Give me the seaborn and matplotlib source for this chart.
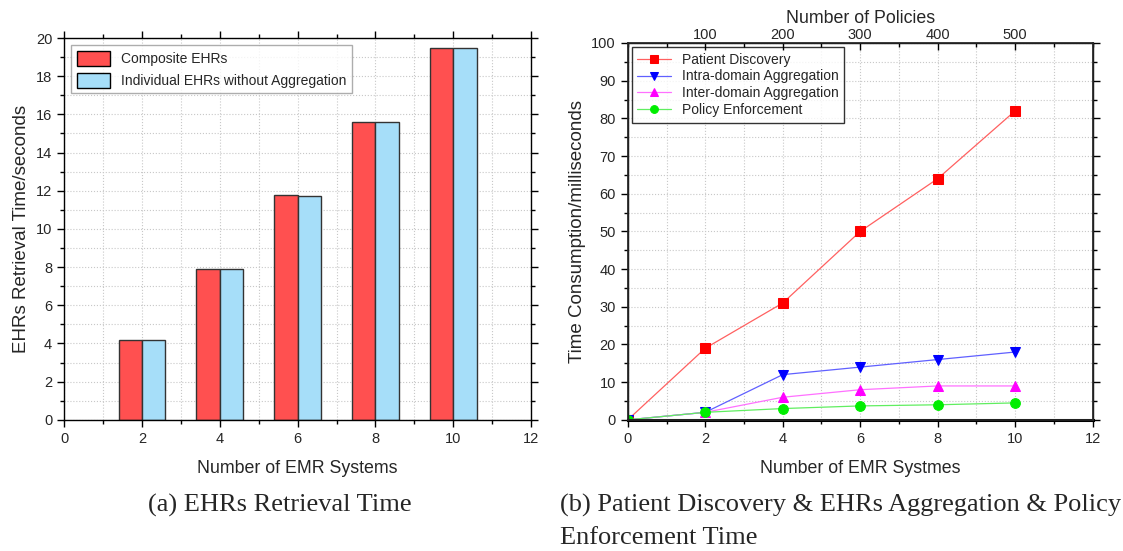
import numpy as np
import pandas as pd
import seaborn as sns
import matplotlib
matplotlib.use('Agg')
import matplotlib.pyplot as plt
from matplotlib.ticker import MultipleLocator

# data
emr_systems = [2, 4, 6, 8, 10]
composite = [4.2, 7.9, 11.8, 15.6, 19.5]
individual = [4.2, 7.88, 11.75, 15.6, 19.5]

line_x = [0, 2, 4, 6, 8, 10]
patient_discovery = [0, 19, 31, 50, 64, 82]
intra_domain = [0, 2, 12, 14, 16, 18]
inter_domain = [0, 2, 6, 8, 9, 9]
policy_enforcement = [0, 2, 3, 3.7, 4, 4.5]

policy_ticks = [100, 200, 300, 400, 500]

sns.set_theme(style="white")
plt.rcParams['font.family'] = ['Liberation Sans', 'DejaVu Sans']

fig = plt.figure(figsize=(11.23, 5.51), dpi=100)
ax1 = fig.add_axes([0.057, 0.238, 0.416, 0.693])
ax2 = fig.add_axes([0.559, 0.238, 0.414, 0.684])

grid_kw = dict(color='#c8c8c8', linestyle=':', linewidth=0.8)
serif = ['Liberation Serif', 'DejaVu Serif']

def style_axis(ax, xmax, ymax, ymaj, ymin):
    ax.set_xlim(0, xmax)
    ax.set_ylim(0, ymax)
    ax.xaxis.set_major_locator(MultipleLocator(2))
    ax.xaxis.set_minor_locator(MultipleLocator(1))
    ax.yaxis.set_major_locator(MultipleLocator(ymaj))
    ax.yaxis.set_minor_locator(MultipleLocator(ymin))
    ax.grid(True, which='both', **grid_kw)
    ax.set_axisbelow(True)
    for s in ax.spines.values():
        s.set_color('black')
        s.set_linewidth(1.0)
    ax.tick_params(which='both', direction='out', color='black', labelsize=10.5,
                   top=True, right=True, bottom=True, left=True)
    ax.tick_params(which='major', length=5, width=1)
    ax.tick_params(which='minor', length=3, width=1)

# (a) bars
bars = pd.DataFrame({
    'x': emr_systems * 2,
    'val': composite + individual,
    'series': ['Composite EHRs'] * 5 + ['Individual EHRs without Aggregation'] * 5,
})
sns.barplot(data=bars, x='x', y='val', hue='series', native_scale=True,
            width=0.6, gap=0, palette=['#ff5050', '#a6def9'], saturation=1,
            edgecolor='#333333', linewidth=1.0, ax=ax1)
style_axis(ax1, 12, 20, 2, 1)
ax1.set_xlabel('Number of EMR Systems', fontsize=12.8, labelpad=10)
ax1.set_ylabel('EHRs Retrieval Time/seconds', fontsize=13.5, labelpad=4)
leg1 = ax1.legend(loc='upper left', fontsize=10, frameon=True, fancybox=False,
                  edgecolor='#999999', handlelength=2.4, handleheight=1.3,
                  borderaxespad=0.5)
leg1.get_frame().set_linewidth(1.0)
for p in leg1.get_patches():
    p.set_edgecolor('black')

# (b) lines
lines = pd.DataFrame({
    'x': line_x * 4,
    'val': patient_discovery + intra_domain + inter_domain + policy_enforcement,
    'series': (['Patient Discovery'] * 6 + ['Intra-domain Aggregation'] * 6
               + ['Inter-domain Aggregation'] * 6 + ['Policy Enforcement'] * 6),
})
colors = ['#ff0000', '#0000ff', '#ff00ff', '#00ee00']
line_colors = ['#ff6060', '#6060ff', '#ff70ff', '#60ee60']
markers = ['s', 'v', '^', 'o']
for name, lc, mc, mk in zip(lines['series'].unique(), line_colors, colors, markers):
    sub = lines[lines['series'] == name]
    sns.lineplot(data=sub, x='x', y='val', ax=ax2, color=lc, linewidth=0.9,
                 marker=mk, markersize=7, markerfacecolor=mc, markeredgecolor=mc,
                 label=name)
style_axis(ax2, 12, 100, 10, 5)
ax2.spines['bottom'].set_linewidth(2.2)
ax2.tick_params(which='both', top=False)
ax2.set_xlabel('Number of EMR Systmes', fontsize=12.8, labelpad=10)
ax2.set_ylabel('Time Consumption/milliseconds', fontsize=13.5, labelpad=4)
leg2 = ax2.legend(loc='upper left', fontsize=10, frameon=True, fancybox=False,
                  edgecolor='black', handlelength=2.4, borderaxespad=0.3,
                  labelspacing=0.2, markerscale=0.8)
leg2.get_frame().set_linewidth(1.0)

# top axis: number of policies
top = ax2.twiny()
top.set_xlim(ax2.get_xlim())
top.set_xticks(emr_systems)
top.set_xticklabels([str(v) for v in policy_ticks])
top.xaxis.set_minor_locator(MultipleLocator(1))
top.tick_params(which='both', direction='in', labelsize=10.5, color='black', pad=0.5)
top.tick_params(which='major', length=5, width=1)
top.tick_params(which='minor', length=3, width=1)
top.set_xlabel('Number of Policies', fontsize=12.8, labelpad=4)

# captions
fig.text(0.249, 0.083, '(a) EHRs Retrieval Time', ha='center', va='center',
         fontsize=19, family=serif)
fig.text(0.499, 0.083, '(b) Patient Discovery & EHRs Aggregation & Policy',
         ha='left', va='center', fontsize=19, family=serif)
fig.text(0.499, 0.024, 'Enforcement Time',
         ha='left', va='center', fontsize=19, family=serif)

fig.savefig('out.png', dpi=100)
